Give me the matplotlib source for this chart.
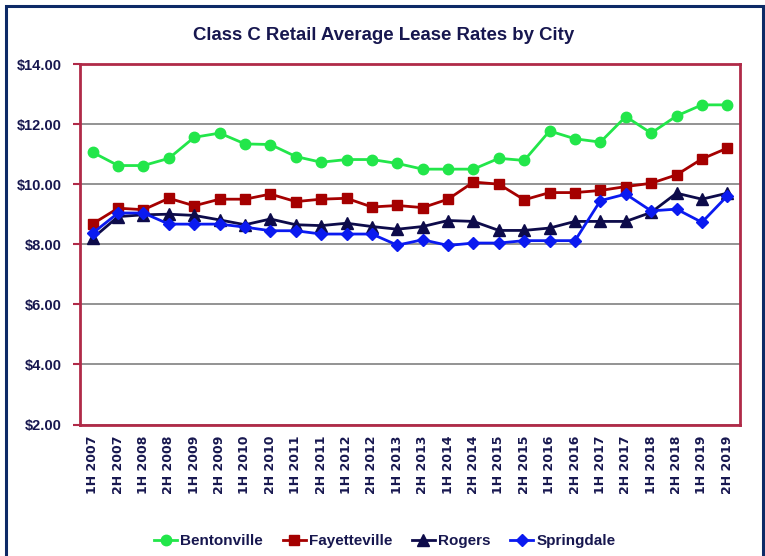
import numpy as np
import matplotlib
matplotlib.use("Agg")
import matplotlib.pyplot as plt
from matplotlib.patches import Rectangle

# half-year periods
periods = [f"{h}H {y}" for y in range(2007, 2020) for h in (1, 2)]

bentonville = [11.06, 10.62, 10.62, 10.86, 11.56, 11.70, 11.34, 11.32, 10.92, 10.73,
               10.82, 10.82, 10.69, 10.50, 10.50, 10.50, 10.86, 10.79, 11.77, 11.51,
               11.40, 12.25, 11.70, 12.27, 12.64, 12.64]
fayetteville = [8.68, 9.20, 9.15, 9.53, 9.28, 9.50, 9.50, 9.67, 9.42, 9.50,
                9.53, 9.24, 9.29, 9.22, 9.50, 10.07, 10.00, 9.48, 9.72, 9.72,
                9.79, 9.92, 10.03, 10.31, 10.84, 11.20]
rogers = [8.20, 8.92, 8.98, 9.00, 8.96, 8.81, 8.65, 8.84, 8.65, 8.62,
          8.70, 8.59, 8.50, 8.59, 8.79, 8.76, 8.46, 8.46, 8.54, 8.76,
          8.76, 8.76, 9.06, 9.70, 9.50, 9.70]
springdale = [8.37, 9.04, 9.04, 8.67, 8.67, 8.67, 8.57, 8.45, 8.45, 8.34,
              8.34, 8.34, 7.97, 8.15, 7.96, 8.04, 8.04, 8.12, 8.12, 8.12,
              9.45, 9.67, 9.11, 9.17, 8.73, 9.61]

navy = "#17174f"
frame_red = "#b02a48"

plt.rcParams['font.family'] = ['Liberation Sans', 'DejaVu Sans']

fig = plt.figure(figsize=(7.65, 5.56), dpi=100)
ax = fig.add_axes([80 / 765, 1 - 424.5 / 556, 660 / 765, 360.5 / 556])

# outer chart border (bottom edge runs off the image)
fig.patches.append(Rectangle((5.5 / 765, -0.05), 757 / 765, 1.05 - 5.5 / 556,
                             transform=fig.transFigure, fill=False,
                             edgecolor="#0d2a66", linewidth=2.2))

x = np.arange(len(periods))
series = [
    ("Bentonville", bentonville, "#22e64a", "o", 7.5),
    ("Fayetteville", fayetteville, "#a50000", "s", 7.5),
    ("Rogers", rogers, "#0d0b4a", "^", 8),
    ("Springdale", springdale, "#0a1af0", "D", 6.5),
]
for name, vals, col, mk, ms in series:
    ax.plot(x, vals, color=col, marker=mk, markersize=ms, linewidth=2,
            markeredgecolor=col, label=name)

ax.set_ylim(2, 14)
ax.set_xlim(-0.5, len(periods) - 0.5)
ax.set_yticks(np.arange(2, 15, 2))
ax.set_yticklabels([f"${v:.2f}" for v in range(2, 15, 2)])
ax.yaxis.grid(True, color="#808080", linewidth=1.2)
ax.set_axisbelow(True)
for sp in ax.spines.values():
    sp.set_color(frame_red)
    sp.set_linewidth(2)

ax.tick_params(axis="y", length=5, width=1.5, color=frame_red, pad=8,
               labelsize=10.5, labelcolor=navy)
for lab in ax.get_yticklabels():
    lab.set_fontweight("bold")

ax.set_xticks(x)
ax.set_xticklabels(periods, rotation=90, fontsize=9, fontweight="bold",
                   color=navy, family="DejaVu Sans")
ax.tick_params(axis="x", length=0, pad=8)

fig.suptitle("Class C Retail Average Lease Rates by City", x=0.502, y=0.952,
             fontsize=13.4, fontweight="bold", color=navy)

leg = fig.legend(loc="center", bbox_to_anchor=(0.503, 1 - 541 / 556), ncol=4,
                 frameon=False, handlelength=1.5, handletextpad=0.2,
                 columnspacing=1.3, prop={"weight": "bold", "size": 11})
for t in leg.get_texts():
    t.set_color(navy)

fig.savefig("out.png", dpi=100)
